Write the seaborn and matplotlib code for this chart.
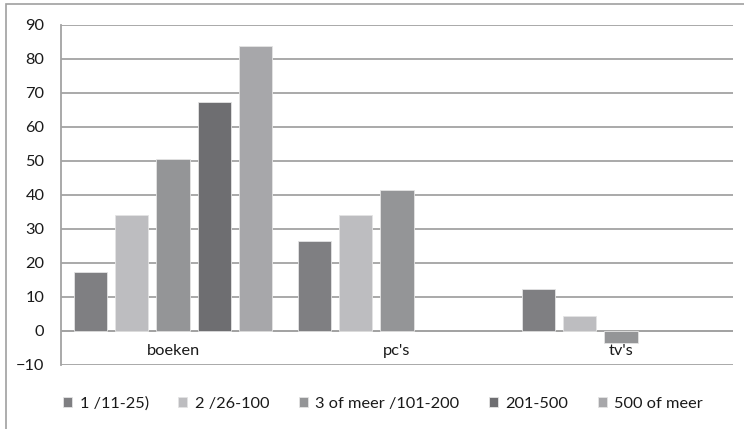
import numpy as np
import pandas as pd
import matplotlib
matplotlib.use("Agg")
import matplotlib.pyplot as plt
from matplotlib.patches import Rectangle
import seaborn as sns

# Data
categories = ["boeken", "pc's", "tv's"]
series = ["1 /11-25)", "2 /26-100", "3 of meer /101-200", "201-500", "500 of meer"]
boeken = [17.1, 33.9, 50.5, 67.2, 83.8]
pcs = [26.4, 33.9, 41.5, np.nan, np.nan]
tvs = [12.1, 4.2, -3.6, np.nan, np.nan]
yticks = [-10, 0, 10, 20, 30, 40, 50, 60, 70, 80, 90]

colors = ["#7e7f82", "#bcbdc0", "#939598", "#6d6e71", "#a6a7aa"]

rows = []
for cat, vals in zip(categories, [boeken, pcs, tvs]):
    for s, v in zip(series, vals):
        rows.append({"categorie": cat, "reeks": s, "waarde": v})
df = pd.DataFrame(rows)

sns.set_theme(style="white")
plt.rcParams["font.family"] = ["Lato", "DejaVu Sans"]

fs = 11.8
fig = plt.figure(figsize=(7.44, 4.29), dpi=100)
ax = fig.add_axes([61 / 744, 1 - 364.5 / 429, (733 - 61) / 744, (364.5 - 25) / 429])

sns.barplot(data=df, x="categorie", y="waarde", hue="reeks",
            order=categories, hue_order=series, palette=colors,
            width=0.925, gap=0.2, edgecolor="#e4e4e4", linewidth=0.6,
            ax=ax, zorder=3)

ax.set_ylim(-10, 90)
ax.set_xlim(-0.5, 2.5)
ax.set_yticks(yticks)
ax.set_xlabel("")
ax.set_ylabel("")
ax.yaxis.grid(True, color="#a3a3a3", linewidth=1.3, zorder=0)
ax.set_axisbelow(True)
ax.axhline(0, color="#a3a3a3", linewidth=1.3, zorder=2)

for side in ["top", "right", "bottom"]:
    ax.spines[side].set_visible(False)
ax.spines["left"].set_color("#a3a3a3")
ax.spines["left"].set_linewidth(1.3)

ax.tick_params(axis="y", length=0, pad=12, labelsize=fs, labelcolor="#1a1a1a")
ax.tick_params(axis="x", length=0, pad=-15, labelsize=fs, labelcolor="#1a1a1a")

handles, labels = ax.get_legend_handles_labels()
if ax.get_legend() is not None:
    ax.get_legend().remove()
fig.legend(handles, labels, loc="center", bbox_to_anchor=(383 / 744, 1 - 404 / 429),
           ncol=5, frameon=False, fontsize=fs, handlelength=0.55, handleheight=0.55,
           handletextpad=0.45, columnspacing=1.8, labelcolor="#1a1a1a")

# Outer chart border
fig.patches.append(Rectangle((6 / 744, -0.1), 1.2, 1 - 4 / 429 + 0.1,
                             transform=fig.transFigure, fill=False,
                             edgecolor="#a0a0a0", linewidth=1.2))

fig.savefig("out.png", dpi=100)
